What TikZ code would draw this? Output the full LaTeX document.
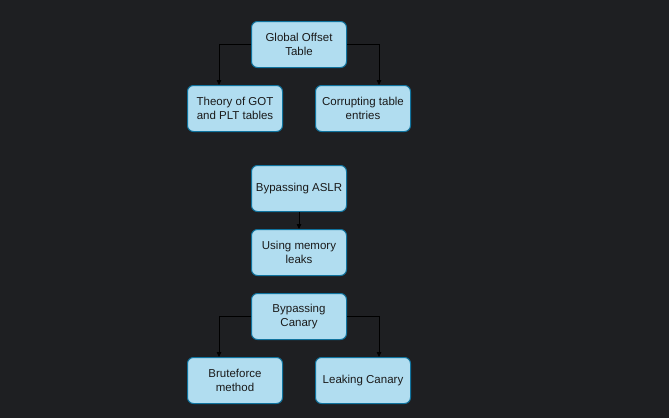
\documentclass[tikz,border=0pt]{standalone}
\usepackage{fontspec}
\setmainfont{Liberation Sans}
\usetikzlibrary{arrows.meta,calc}
\definecolor{bg}{HTML}{1E1F22}
\definecolor{boxfill}{HTML}{B1DDF0}
\definecolor{boxline}{HTML}{10739E}
\definecolor{txt}{HTML}{1A1A1A}
\begin{document}
\begin{tikzpicture}[x=1pt,y=-1pt,
  box/.style={draw=boxline, fill=boxfill, rounded corners=6pt, line width=1pt,
    minimum width=95pt, minimum height=46pt, inner sep=0pt, align=center,
    text=txt, font=\fontsize{11.5}{14.5}\selectfont},
  conn/.style={draw=black, line width=0.8pt, -{Triangle[length=5pt,width=4.5pt]}}]
\fill[bg] (0,0) rectangle (669,418);
\useasboundingbox (0,0) rectangle (669,418);
\node[box] (got) at (299,44.5) {Global Offset\\Table};
\node[box] (theory) at (235,108.5) {Theory of GOT\\and PLT tables};
\node[box] (corrupt) at (363,108.5) {Corrupting table\\entries};
\node[box] (aslr) at (299,188.5) {Bypassing ASLR};
\node[box] (leaks) at (299,252.5) {Using memory\\leaks};
\node[box] (canary) at (299,316.5) {Bypassing\\Canary};
\node[box] (brute) at (235,380.5) {Bruteforce\\method};
\node[box] (leak) at (363,380.5) {Leaking Canary};
\coordinate (t1) at ($(theory.north)+(-16,0)$);
\coordinate (t2) at ($(corrupt.north)+(16,0)$);
\coordinate (b1) at ($(brute.north)+(-16,0)$);
\coordinate (b2) at ($(leak.north)+(16,0)$);
\draw[conn] (got.west) -| (t1);
\draw[conn] (got.east) -| (t2);
\draw[conn] (aslr.south) -- (leaks.north);
\draw[conn] (canary.west) -| (b1);
\draw[conn] (canary.east) -| (b2);
\end{tikzpicture}
\end{document}
